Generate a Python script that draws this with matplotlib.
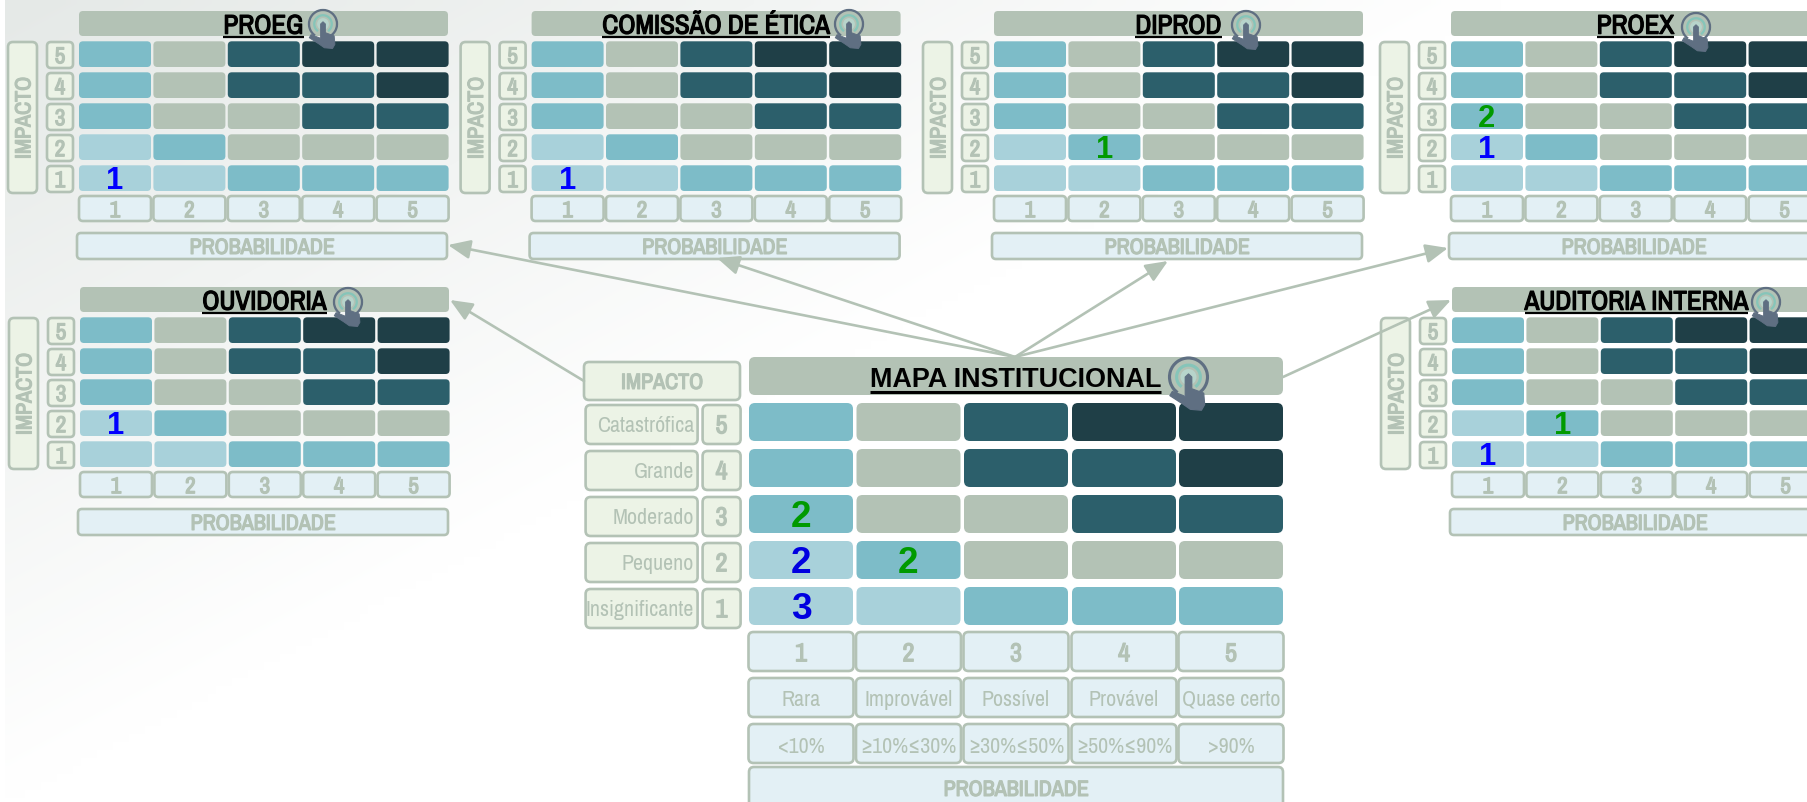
import numpy as np
import matplotlib
matplotlib.use('Agg')
import matplotlib.pyplot as plt
import matplotlib.patheffects as pe
from matplotlib.patches import FancyBboxPatch, Arc, Circle, Polygon
from matplotlib import font_manager as fm

# dados
niveis_risco = [[1, 2, 3, 4, 4],
                [1, 2, 3, 3, 4],
                [1, 2, 2, 3, 3],
                [0, 1, 2, 2, 2],
                [0, 0, 1, 1, 1]]
impacto_nums = [5, 4, 3, 2, 1]
prob_nums = [1, 2, 3, 4, 5]
impacto_nomes = ['Catastrófica', 'Grande', 'Moderado', 'Pequeno', 'Insignificante']
prob_nomes = ['Rara', 'Improvável', 'Possível', 'Provável', 'Quase certo']
prob_faixas = ['<10%', '≥10%≤30%', '≥30%≤50%', '≥50%≤90%', '>90%']

paineis = ['PROEG', 'COMISSÃO DE ÉTICA', 'DIPROD', 'PROEX', 'OUVIDORIA', 'AUDITORIA INTERNA']
# (impacto, probabilidade, quantidade)
azul = {'PROEG': [(1, 1, 1)], 'COMISSÃO DE ÉTICA': [(1, 1, 1)], 'DIPROD': [],
        'PROEX': [(2, 1, 1)], 'OUVIDORIA': [(2, 1, 1)], 'AUDITORIA INTERNA': [(1, 1, 1)]}
verde = {'PROEG': [], 'COMISSÃO DE ÉTICA': [], 'DIPROD': [(2, 2, 1)],
         'PROEX': [(3, 1, 2)], 'OUVIDORIA': [], 'AUDITORIA INTERNA': [(2, 2, 1)]}
azul_inst = [(2, 1, 2), (1, 1, 3)]
verde_inst = [(3, 1, 2), (2, 2, 2)]

# layout em pixels
origens = {'PROEG': (79, 11), 'COMISSÃO DE ÉTICA': (531.6, 11), 'DIPROD': (994, 11),
           'PROEX': (1451, 11), 'OUVIDORIA': (80, 287), 'AUDITORIA INTERNA': (1452, 287)}
icones = {'PROEG': (323, 24), 'COMISSÃO DE ÉTICA': (849, 24), 'DIPROD': (1246, 25),
          'PROEX': (1696, 27), 'OUVIDORIA': (348, 302), 'AUDITORIA INTERNA': (1766, 302)}

cores = ['#a8d1da', '#7dbcc8', '#b3c2b5', '#2c5f6b', '#1f3f47']
cinza = '#b3c2b5'
verde_claro = '#ecf3e6'
azul_claro = '#e3f0f5'

# fonte estreita, se houver
disponiveis = {f.name for f in fm.fontManager.ttflist}
NARROW = 'Liberation Sans'
escala = 0.82
for f in ['Liberation Sans Narrow', 'Archivo Narrow', 'Roboto Condensed']:
    if f in disponiveis:
        NARROW = f
        escala = 1.0
        break
SANS = 'Liberation Sans'

fig = plt.figure(figsize=(18.08, 8.02), dpi=100)
ax = fig.add_axes([0, 0, 1, 1])

# fundo
xx, yy = np.meshgrid(np.linspace(0, 1, 226), np.linspace(0, 1, 100))
t = np.clip(xx * 1808 / 1500 + yy * 802 / 800, 0, 1)
ini = np.array([0xe5, 0xe9, 0xe7]) / 255
fundo = ini[None, None, :] * (1 - t[..., None]) + t[..., None]
ax.imshow(fundo, extent=[5, 1808, 802, 0], aspect='auto', zorder=0, interpolation='bilinear')
ax.set_xlim(0, 1808)
ax.set_ylim(802, 0)
ax.axis('off')


def caixa(x, y, w, h, fc, ec='none', lw=0, r=4, z=2):
    p = FancyBboxPatch((x + r, y + r), w - 2 * r, h - 2 * r,
                       boxstyle='round,pad=%f,rounding_size=%f' % (r, r),
                       fc=fc, ec=ec, lw=lw, zorder=z)
    ax.add_patch(p)


def txt(cx, cy, s, px, cor=cinza, fam=NARROW, peso='bold', ha='center', rot=0, z=5):
    # px = tamanho da fonte em pixels, cy = centro das maiusculas
    if fam == NARROW:
        px = px * escala
    if rot == 90:
        tx = ax.text(cx + 0.358 * px, cy, s, fontsize=px * 0.72, color=cor, family=fam, weight=peso,
                     ha='center', va='baseline', rotation=90, rotation_mode='anchor', zorder=z)
    else:
        tx = ax.text(cx, cy + 0.358 * px, s, fontsize=px * 0.72, color=cor, family=fam, weight=peso,
                     ha=ha, va='baseline', zorder=z)
    # a fonte estreita nao tem negrito
    if peso == 'bold' and fam == NARROW and escala == 1.0:
        tx.set_path_effects([pe.withStroke(linewidth=0.9, foreground=cor)])
    return tx


def sublinha(t_obj, y, lw):
    bb = t_obj.get_window_extent(fig.canvas.get_renderer())
    ax.plot([bb.x0, bb.x1], [y, y], color='black', lw=lw, solid_capstyle='butt', zorder=5)


def icone(cx, cy, u):
    # u = raio do circulo externo em px
    e = u / 17
    ax.add_patch(Arc((cx, cy), 2 * u, 2 * u, theta1=125, theta2=415, color='#5f6f82', lw=2.0 * e, zorder=6))
    ax.add_patch(Circle((cx, cy), 0.42 * u, fc='#b9dcd5', ec='none', alpha=0.7, zorder=6))
    ax.add_patch(Arc((cx, cy), 1.25 * u, 1.25 * u, theta1=125, theta2=415, color='#86c5b9', lw=2.0 * e, zorder=6))
    mao = np.array([[-0.17, 0.0], [0.0, -0.16], [0.17, 0.0], [0.17, 0.62], [0.8, 0.85], [0.85, 1.45],
                    [0.68, 1.75], [0.1, 1.7], [-0.3, 1.42], [-0.98, 0.98], [-0.85, 0.76], [-0.17, 1.02]])
    ax.add_patch(Polygon(mao * u + [cx, cy], closed=True, fc='#5f6f82', ec='#5f6f82', lw=0.8 * e,
                         joinstyle='round', zorder=7))


def seta(ini_xy, fim_xy):
    ax.annotate('', xy=fim_xy, xytext=ini_xy, zorder=4,
                arrowprops=dict(arrowstyle='-|>,head_length=0.75,head_width=0.32', color=cinza, lw=1.9,
                                shrinkA=0, shrinkB=0, mutation_scale=18))


# paineis pequenos
for nome in paineis:
    ox, oy = origens[nome]
    caixa(ox, oy, 369, 25, cinza, r=4)
    t_obj = txt(ox + 184.5, oy + 13, nome, 27, cor='black')
    sublinha(t_obj, oy + 26, 1.6)
    for l in range(5):
        for c in range(5):
            caixa(ox + c * 74.4, oy + 30.3 + l * 31, 72, 25.7, cores[niveis_risco[l][c]], r=4)
        caixa(ox - 32, oy + 31 + l * 31, 26, 26, verde_claro, cinza, 1.9, r=4)
        txt(ox - 19, oy + 44 + l * 31, str(impacto_nums[l]), 23)
    for c in range(5):
        caixa(ox + c * 74.4, oy + 185, 72, 25, azul_claro, cinza, 1.9, r=4)
        txt(ox + 36 + c * 74.4, oy + 198, str(prob_nums[c]), 23)
    caixa(ox - 2, oy + 222, 370, 26, azul_claro, cinza, 1.9, r=4)
    txt(ox + 183, oy + 235, 'PROBABILIDADE', 22)
    caixa(ox - 71, oy + 31, 29, 151, verde_claro, cinza, 1.9, r=5)
    txt(ox - 56.5, oy + 107, 'IMPACTO', 22, rot=90)
    for lista, cor in [(azul[nome], '#0000ff'), (verde[nome], '#009a00')]:
        for imp, pr, q in lista:
            txt(ox + 36 + (pr - 1) * 74.4, oy + 43 + (5 - imp) * 31, str(q), 31, cor=cor, fam=SANS)
    icone(icones[nome][0], icones[nome][1], 14)

# setas
origem_setas = (1015, 357)
seta(origem_setas, (448, 245))
seta(origem_setas, (717, 258))
seta(origem_setas, (1168, 261))
seta(origem_setas, (1448, 248))
seta((584, 381), (450, 300))
seta((1283, 377), (1451, 300))

# mapa institucional
caixa(749, 357, 534, 38, cinza, r=6)
t_obj = txt(1015.5, 377, 'MAPA INSTITUCIONAL', 27, cor='black', fam=SANS)
sublinha(t_obj, 392, 2.2)
px_main = [749, 856.5, 964, 1072, 1179]
py_main = [403, 449, 495, 541, 587]
for l in range(5):
    for c in range(5):
        caixa(px_main[c], py_main[l], 104, 38, cores[niveis_risco[l][c]], r=6)
    caixa(585.6, py_main[l] + 2, 112, 39, verde_claro, cinza, 1.9, r=5)
    txt(694, py_main[l] + 21, impacto_nomes[l], 22, peso='normal', ha='right')
    caixa(702.6, py_main[l] + 2, 38, 39, verde_claro, cinza, 1.9, r=5)
    txt(721.5, py_main[l] + 21, str(impacto_nums[l]), 26)
caixa(584, 362, 156, 38, verde_claro, cinza, 1.9, r=5)
txt(662, 381, 'IMPACTO', 22)
for c in range(5):
    caixa(px_main[c] - 0.5, 632, 105, 39, azul_claro, cinza, 1.9, r=5)
    txt(px_main[c] + 52, 652, str(prob_nums[c]), 26)
    caixa(px_main[c] - 0.5, 678, 105, 39, azul_claro, cinza, 1.9, r=5)
    txt(px_main[c] + 52, 698, prob_nomes[c], 22, peso='normal')
    caixa(px_main[c] - 0.5, 724, 105, 39, azul_claro, cinza, 1.9, r=5)
    txt(px_main[c] + 52, 745, prob_faixas[c], 22, peso='normal')
caixa(749, 767, 534, 50, azul_claro, cinza, 1.9, r=5)
txt(1016, 788, 'PROBABILIDADE', 22)
for lista, cor in [(azul_inst, '#0000e0'), (verde_inst, '#009a00')]:
    for imp, pr, q in lista:
        txt(px_main[pr - 1] + 52, py_main[5 - imp] + 19, str(q), 37, cor=cor, fam=SANS)
icone(1188.5, 377, 19)

fig.savefig('out.png', dpi=100)
